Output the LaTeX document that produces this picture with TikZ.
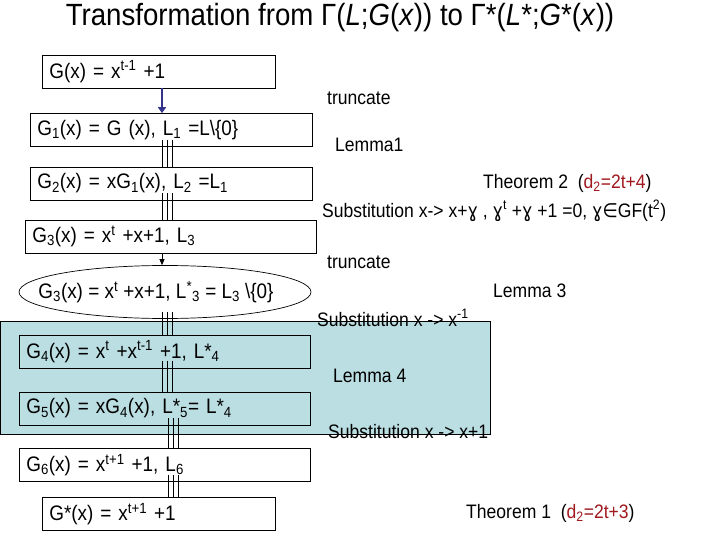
\documentclass[tikz,border=0pt]{standalone}
\usepackage{fontspec}
\setmainfont{Liberation Sans}[FakeStretch=0.9]
\newfontfamily\djv{DejaVu Sans}[FakeStretch=0.9]
\usetikzlibrary{shapes.geometric,arrows.meta}
\definecolor{panel}{RGB}{186,222,226}
\definecolor{navyarrow}{RGB}{51,51,140}
\definecolor{dred}{RGB}{160,25,30}
\newcommand{\gm}{{\djv ɣ}}
\newcommand{\elt}{{\djv ∈}}
\tikzset{
  box/.style={draw, line width=0.7pt, anchor=west, inner xsep=7pt, inner ysep=0pt,
    minimum height=33pt, align=left, font=\fontsize{21}{24}\selectfont},
  lbl/.style={anchor=west, inner sep=0pt, font=\fontsize{19.5}{22}\selectfont},
  tline/.style={line width=0.6pt, shorten <=-7pt},
  thickarrow/.style={draw=navyarrow, line width=2.2pt, -{Triangle[length=6pt,width=8pt]}},
  thinarrow/.style={draw, line width=0.6pt, -{Triangle[length=6pt,width=5pt]}}
}
\begin{document}
\begin{tikzpicture}[x=1pt,y=-1pt]
\useasboundingbox (0,0) rectangle (720,540);
% background panel
\path[fill=panel, draw=black, line width=0.7pt] (0,321) rectangle (490,434);
% title
\node[font=\fontsize{30.7}{34}\selectfont, inner sep=0pt] (title) at (340,18)
  {Transformation from Γ(\textit{L};\textit{G}(\textit{x})) to Γ*(\textit{L}*;\textit{G}*(\textit{x}))};
% column coordinates
\coordinate (a1) at (162,0);
\coordinate (a2) at (167,0);
\coordinate (a3) at (172,0);
\coordinate (c1) at (168,0);
\coordinate (c2) at (173,0);
\coordinate (c3) at (178,0);
% boxes
\node[box, minimum width=233pt, text width=219pt] (b0) at (42,71.5) {G(x) = x\textsuperscript{t-1} +1};
\node[box, minimum width=282pt, text width=268pt] (b1) at (30,130) {G\textsubscript{1}(x) = G (x), L\textsubscript{1} =L\textbackslash\{0\}};
\node[box, minimum width=282pt, text width=268pt] (b2) at (30,183.5) {G\textsubscript{2}(x) = xG\textsubscript{1}(x), L\textsubscript{2} =L\textsubscript{1}};
\node[box, minimum width=291pt, text width=277pt] (b3) at (25,236.5) {G\textsubscript{3}(x) = x\textsuperscript{t} +x+1, L\textsubscript{3}};
\node[draw, ellipse, line width=0.7pt, minimum width=292pt, minimum height=53pt, inner sep=0pt,
  font=\fontsize{21}{24}\selectfont] (el) at (165,292)
  {\makebox[0pt]{G\textsubscript{3}(x) = x\textsuperscript{t} +x+1, L\textsuperscript{*}\textsubscript{3} = L\textsubscript{3} \textbackslash\{0\}\hspace{18pt}}};
\node[box, minimum width=291pt, text width=277pt] (b4) at (19,351.5) {G\textsubscript{4}(x) = x\textsuperscript{t} +x\textsuperscript{t-1} +1, L*\textsubscript{4}};
\node[box, minimum width=291pt, text width=277pt] (b5) at (19,408.5) {G\textsubscript{5}(x) = xG\textsubscript{4}(x), L*\textsubscript{5}= L*\textsubscript{4}};
\node[box, minimum width=291pt, text width=277pt] (b6) at (19,465) {G\textsubscript{6}(x) = x\textsuperscript{t+1} +1, L\textsubscript{6}};
\node[box, minimum width=233pt, text width=219pt] (b7) at (42,514) {G*(x) = x\textsuperscript{t+1} +1};
% connectors
\draw[thickarrow] (b0.south -| a1) -- (b1.north -| a1);
\foreach \c in {a1,a2,a3} {
  \draw[tline] (b1.south -| \c) -- (b2.north -| \c);
  \draw[tline] (b2.south -| \c) -- (b3.north -| \c);
  \draw[tline] (el.south -| \c) -- (b4.north -| \c);
  \draw[tline] (b4.south -| \c) -- (b5.north -| \c);
}
\foreach \c in {c1,c2,c3} {
  \draw[tline] (b5.south -| \c) -- (b6.north -| \c);
  \draw[tline] (b6.south -| \c) -- (b7.north -| \c);
}
\draw[thinarrow] (b3.south -| a1) -- (el.north -| a1);
% labels
\node[lbl] (l1) at (327,98) {truncate};
\node[lbl] (l2) at (335,145) {Lemma1};
\node[lbl] (l3) at (483,183) {Theorem 2\ \ (\textcolor{dred}{d\textsubscript{2}=2t+4})};
\node[lbl] (l4) at (322,211) {Substitution x-> x+\gm\ , \gm\textsuperscript{t} +\gm\ +1 =0, \gm\elt GF(t\textsuperscript{2})};
\node[lbl] (l5) at (327,262) {truncate};
\node[lbl] (l6) at (493,291) {Lemma 3};
\node[lbl] (l7) at (317,318) {Substitution x -> x\textsuperscript{-1}};
\node[lbl] (l8) at (333,376) {Lemma 4};
\node[lbl] (l9) at (328,432) {Substitution x -> x+1};
\node[lbl] (l10) at (466,513) {Theorem 1\ \ (\textcolor{dred}{d\textsubscript{2}=2t+3})};
\end{tikzpicture}
\end{document}
